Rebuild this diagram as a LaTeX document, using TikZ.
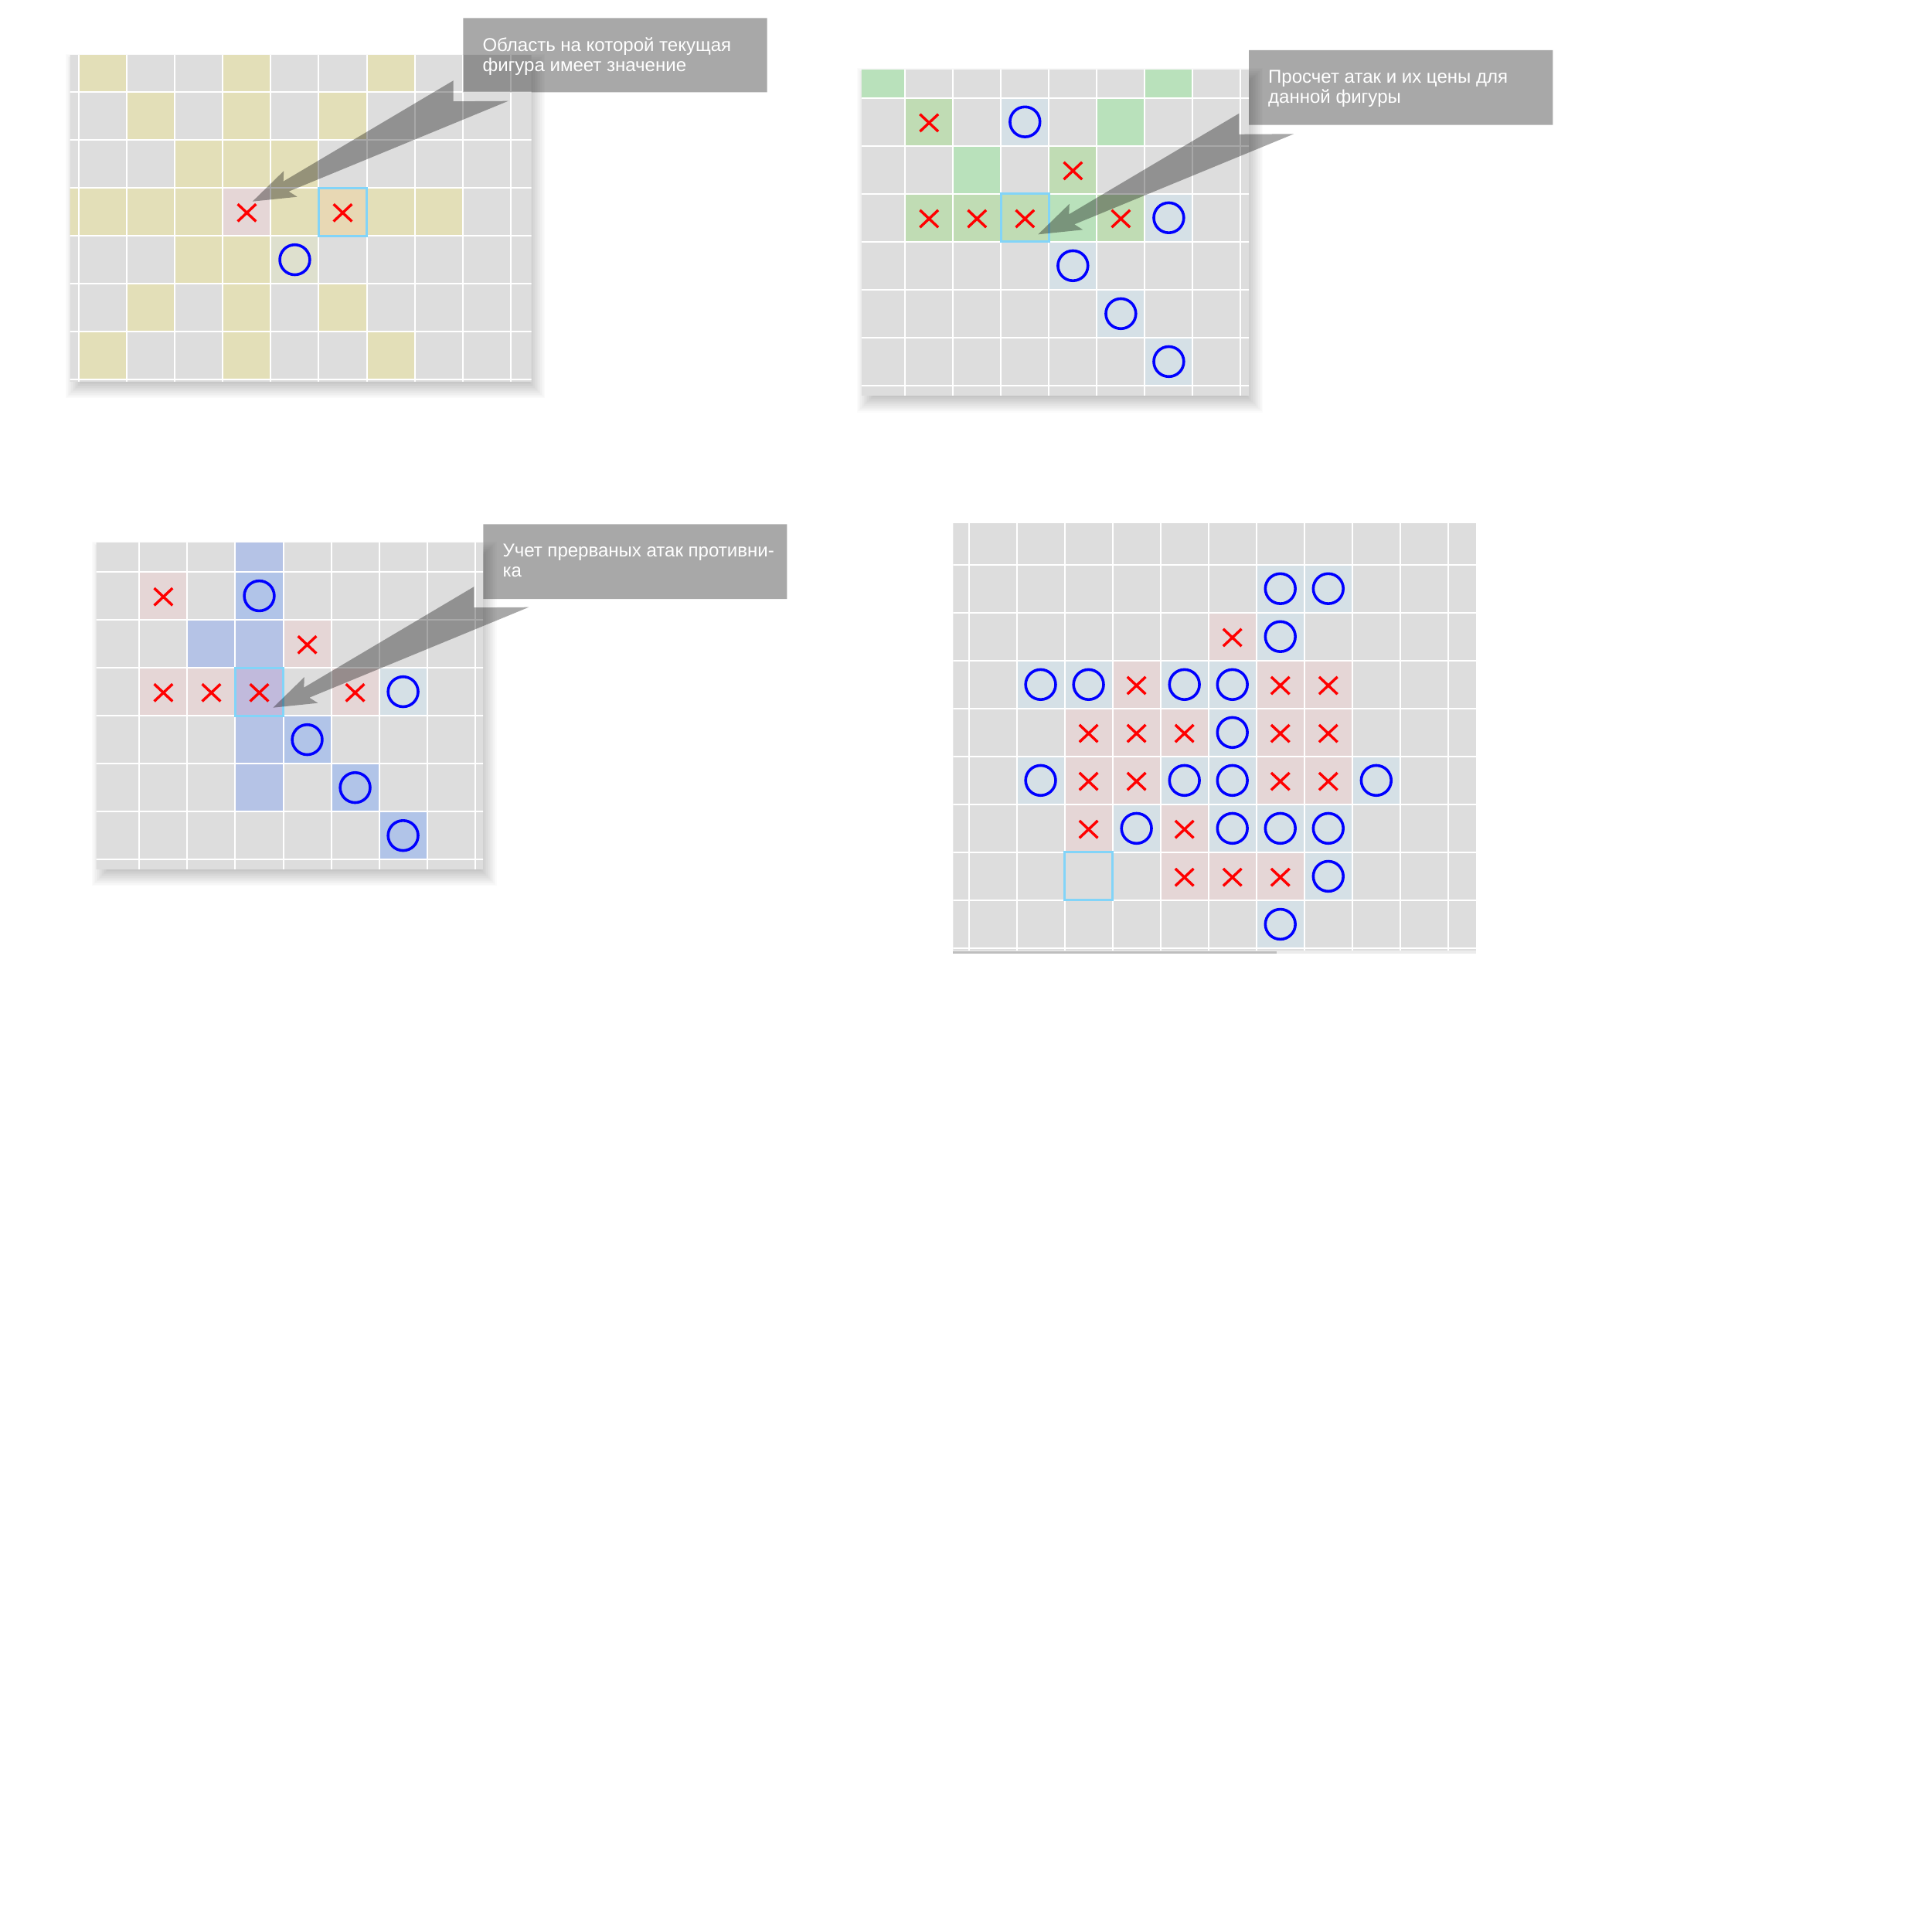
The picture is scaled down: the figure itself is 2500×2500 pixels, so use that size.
\documentclass[tikz,border=0pt]{standalone}
\usepackage{fontspec}
\setmainfont{Liberation Sans}
\definecolor{boardgray}{RGB}{221,221,221}
\definecolor{yel}{RGB}{227,223,184}
\definecolor{pinkc}{RGB}{229,214,214}
\definecolor{bluegray}{RGB}{213,224,230}
\definecolor{hlorange}{RGB}{232,216,180}
\definecolor{ocellyel}{RGB}{222,224,206}
\definecolor{greenc}{RGB}{185,225,187}
\definecolor{greenx}{RGB}{192,220,180}
\definecolor{bluec}{RGB}{181,195,230}
\definecolor{blueo}{RGB}{177,196,232}
\definecolor{purplec}{RGB}{193,186,220}
\definecolor{cyanb}{RGB}{130,212,248}
\definecolor{xred}{RGB}{255,0,0}
\definecolor{oblue}{RGB}{0,0,255}
\definecolor{scrolllight}{RGB}{236,236,236}
\definecolor{scrolldark}{RGB}{190,190,190}
\tikzset{
  gridline/.style={draw=white, line width=0.57pt},
  xline/.style={draw=xred, line width=0.97pt},
  oline/.style={draw=oblue, line width=1.02pt},
  hlborder/.style={draw=cyanb, line width=0.85pt},
  calloutfill/.style={fill=black, fill opacity=0.34},
  ctext/.style={text=white, inner sep=0pt, font=\fontsize{6.83pt}{7.5pt}\selectfont},
}
\newcommand\panelshadow[4]{%
  \foreach \e in {-12,-10.5,...,12}
    \fill[black, opacity=0.016] (#1+6-\e,#2+10-\e) rectangle (#3+6+\e,#4+10+\e);}
\newcommand\boardgrid{%
  \fill[boardgray] (-1,-1) rectangle (12,9);}
\newcommand\boardlines{%
  \foreach \k in {-1,...,12} \draw[gridline] (\k,-1) -- (\k,9);
  \foreach \k in {-1,...,9} \draw[gridline] (-1,\k) -- (12,\k);}
\newcommand\cellsof[2]{%
  \foreach \i/\j in {#2} \fill[#1] (\i,\j) rectangle ++(1,1);}
\newcommand\xsof[1]{%
  \foreach \i/\j in {#1} \draw[xline] (\i+0.309,\j+0.34) -- (\i+0.691,\j+0.70) (\i+0.691,\j+0.34) -- (\i+0.309,\j+0.70);}
\newcommand\osof[1]{%
  \foreach \i/\j in {#1} \draw[oline] (\i+0.5,\j+0.5) circle[radius=0.194cm];}
\newcommand\calloutpath[6]{%
  % box left, top, right, bottom; arrow tip x, y
  \fill[calloutfill] (#1,#2) -- (#3,#2) -- (#3,#4) -- (#1,#4) -- cycle
    (#5,#6) -- (#5+40.5,#6-39.5) -- (#5+40,#6-26) -- (#5+260,#6-156.5)
    -- (#5+260,#6-129.5) -- (#5+331,#6-130) -- (#5+47,#6-13) -- (#5+58,#6-6) -- cycle;}
\begin{document}
\begin{tikzpicture}[x=0.01cm, y=-0.01cm]
\useasboundingbox (0,0) rectangle (2500,2500);
\fill[white] (0,0) rectangle (2500,2500);

% ---------------- Panel 1 ----------------
\panelshadow{90.6}{71.7}{687.4}{493.3}
\begin{scope}[shift={(102.3,119)}, x=0.62cm, y=-0.62cm]
  \begin{scope}
    \clip (-0.189,-0.763) rectangle (9.437,6.037);
    \boardgrid
    \cellsof{yel}{0/-1,3/-1,6/-1,1/0,3/0,5/0,2/1,3/1,4/1,-1/2,0/2,1/2,2/2,4/2,6/2,7/2,2/3,3/3,1/4,3/4,5/4,0/5,3/5,6/5}
    \cellsof{pinkc}{3/2}
    \cellsof{hlorange}{5/2}
    \cellsof{ocellyel}{4/3}
    \boardlines
  \end{scope}
  \draw[hlborder] (5,2) rectangle ++(1,1);
  \xsof{3/2,5/2}
  \osof{4/3}
\end{scope}

% ---------------- Panel 2 ----------------
\panelshadow{1114.8}{90}{1616}{511.7}
\begin{scope}[shift={(1171.2,126.7)}, x=0.62cm, y=-0.62cm]
  \begin{scope}
    \clip (-0.91,-0.59) rectangle (7.17,6.21);
    \boardgrid
    \cellsof{greenc}{-1/-1,5/-1,4/0,1/1,3/2}
    \cellsof{greenx}{0/0,3/1,0/2,1/2,4/2,2/2}
    \cellsof{bluegray}{2/0,5/2,3/3,4/4,5/5}
    \boardlines
  \end{scope}
  \draw[hlborder] (2,2) rectangle ++(1,1);
  \xsof{0/0,3/1,0/2,1/2,2/2,4/2}
  \osof{2/0,5/2,3/3,4/4,5/5}
\end{scope}

% ---------------- Panel 3 ----------------
\panelshadow{124.7}{702.7}{624.7}{1124}
\begin{scope}[shift={(180.4,740)}, x=0.62cm, y=-0.62cm]
  \begin{scope}
    \clip (-0.9,-0.6) rectangle (7.17,6.19);
    \boardgrid
    \cellsof{bluec}{2/-1,1/1,2/1,2/3,2/4}
    \cellsof{blueo}{2/0,3/3,4/4,5/5}
    \cellsof{pinkc}{0/0,3/1,0/2,1/2,4/2}
    \cellsof{purplec}{2/2}
    \cellsof{bluegray}{5/2}
    \boardlines
  \end{scope}
  \draw[hlborder] (2,2) rectangle ++(1,1);
  \xsof{0/0,3/1,0/2,1/2,2/2,4/2}
  \osof{2/0,5/2,3/3,4/4,5/5}
\end{scope}

% ---------------- Panel 4 ----------------
\begin{scope}[shift={(1253.5,730.7)}, x=0.62cm, y=-0.62cm]
  \begin{scope}
    \clip (-0.324,-0.86) rectangle (10.58,8.04);
    \boardgrid
    \cellsof{bluegray}{6/0,7/0,6/1,1/2,2/2,4/2,5/2,5/3,1/4,4/4,5/4,8/4,3/5,5/5,6/5,7/5,7/6,6/7}
    \cellsof{pinkc}{5/1,3/2,6/2,7/2,2/3,3/3,4/3,6/3,7/3,2/4,3/4,6/4,7/4,2/5,4/5,4/6,5/6,6/6}
    \boardlines
  \end{scope}
  \draw[hlborder] (2,6) rectangle ++(1,1);
  \xsof{5/1,3/2,6/2,7/2,2/3,3/3,4/3,6/3,7/3,2/4,3/4,6/4,7/4,2/5,4/5,4/6,5/6,6/6}
  \osof{6/0,7/0,6/1,1/2,2/2,4/2,5/2,5/3,1/4,4/4,5/4,8/4,3/5,5/5,6/5,7/5,7/6,6/7}
\end{scope}
\fill[scrolllight] (1233.4,1229.5) rectangle (1909.7,1234);
\fill[scrolldark] (1233.4,1231.3) rectangle (1652,1233.8);

% ---------------- Callouts ----------------
\calloutpath{599.4}{23.3}{992.6}{119.3}{326.7}{260.7}
\node[ctext, anchor=base west] (c1a) at (623.8,66.3) {Область на которой текущая};
\node[ctext, anchor=base west] (c1b) at (623.8,92.3) {фигура имеет значение};

\calloutpath{1616}{65}{2009.3}{161.7}{1343.3}{303.3}
\node[ctext, anchor=base west] (c2a) at (1640.5,107.5) {Просчет атак и их цены для};
\node[ctext, anchor=base west] (c2b) at (1640.5,133.5) {данной фигуры};

\calloutpath{625.3}{678.3}{1018.4}{775}{353.3}{915.7}
\node[ctext, anchor=base west] (c3a) at (649.8,720.8) {Учет прерваных атак противни-};
\node[ctext, anchor=base west] (c3b) at (649.8,746.8) {ка};
\end{tikzpicture}
\end{document}
